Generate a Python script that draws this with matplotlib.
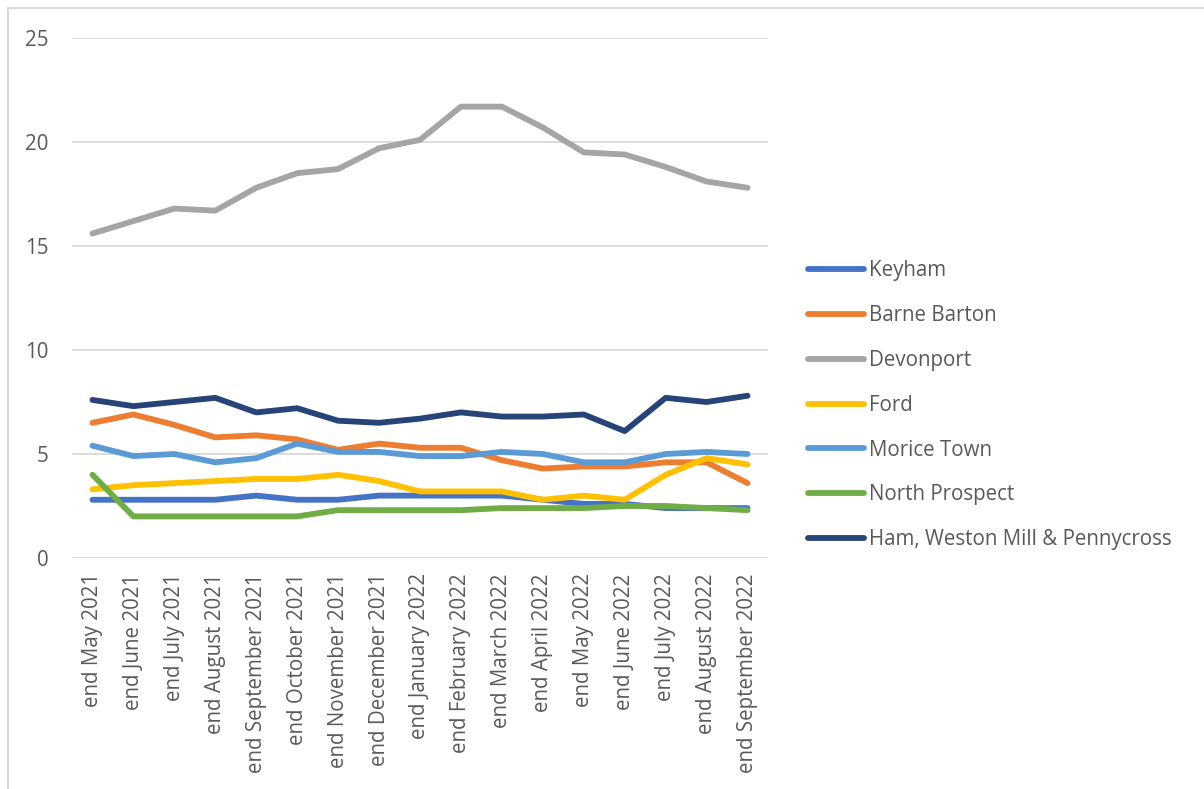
import matplotlib
matplotlib.use('Agg')
import matplotlib.pyplot as plt
from matplotlib.patches import Rectangle

# month labels
months = ['end May 2021', 'end June 2021', 'end July 2021', 'end August 2021',
          'end September 2021', 'end October 2021', 'end November 2021',
          'end December 2021', 'end January 2022', 'end February 2022',
          'end March 2022', 'end April 2022', 'end May 2022', 'end June 2022',
          'end July 2022', 'end August 2022', 'end September 2022']

keyham = [2.8, 2.8, 2.8, 2.8, 3.0, 2.8, 2.8, 3.0, 3.0, 3.0, 3.0, 2.8, 2.6, 2.6, 2.4, 2.4, 2.4]
barne_barton = [6.5, 6.9, 6.4, 5.8, 5.9, 5.7, 5.2, 5.5, 5.3, 5.3, 4.7, 4.3, 4.4, 4.4, 4.6, 4.6, 3.6]
devonport = [15.6, 16.2, 16.8, 16.7, 17.8, 18.5, 18.7, 19.7, 20.1, 21.7, 21.7, 20.7, 19.5, 19.4, 18.8, 18.1, 17.8]
ford = [3.3, 3.5, 3.6, 3.7, 3.8, 3.8, 4.0, 3.7, 3.2, 3.2, 3.2, 2.8, 3.0, 2.8, 4.0, 4.8, 4.5]
morice_town = [5.4, 4.9, 5.0, 4.6, 4.8, 5.5, 5.1, 5.1, 4.9, 4.9, 5.1, 5.0, 4.6, 4.6, 5.0, 5.1, 5.0]
north_prospect = [4.0, 2.0, 2.0, 2.0, 2.0, 2.0, 2.3, 2.3, 2.3, 2.3, 2.4, 2.4, 2.4, 2.5, 2.5, 2.4, 2.3]
ham = [7.6, 7.3, 7.5, 7.7, 7.0, 7.2, 6.6, 6.5, 6.7, 7.0, 6.8, 6.8, 6.9, 6.1, 7.7, 7.5, 7.8]

series = [
    ('Keyham', keyham, '#4472C4'),
    ('Barne Barton', barne_barton, '#ED7D31'),
    ('Devonport', devonport, '#A5A5A5'),
    ('Ford', ford, '#FFC000'),
    ('Morice Town', morice_town, '#5B9BD5'),
    ('North Prospect', north_prospect, '#70AD47'),
    ('Ham, Weston Mill & Pennycross', ham, '#264478'),
]

plt.rcParams['font.family'] = ['Open Sans', 'DejaVu Sans']
text_col = '#595959'

fig = plt.figure(figsize=(12.04, 7.89), dpi=100)
ax = fig.add_axes([72 / 1204, 1 - 558 / 789, (768 - 72) / 1204, (558 - 38) / 789])

x = list(range(len(months)))
for name, vals, col in series:
    ax.plot(x, vals, color=col, linewidth=4.2, label=name, solid_capstyle='round')

ax.set_xlim(-0.5, len(months) - 0.5)
ax.set_ylim(0, 25)
ax.set_yticks([0, 5, 10, 15, 20, 25])
ax.set_xticks(x)
ax.set_xticklabels(months, rotation=90)
ax.grid(axis='y', color='#D9D9D9', linewidth=1.3)
ax.set_axisbelow(True)
for s in ax.spines.values():
    s.set_visible(False)
ax.tick_params(axis='both', length=0, labelsize=14.8, colors=text_col)
ax.tick_params(axis='y', pad=17)
ax.tick_params(axis='x', pad=11)

leg = fig.legend(loc='upper left', bbox_to_anchor=(800 / 1204, 1 - 252 / 789),
                 frameon=False, fontsize=14.8, handlelength=2.7,
                 handletextpad=0.25, labelspacing=1.16, borderaxespad=0)
for t in leg.get_texts():
    t.set_color(text_col)

# outer chart border
fig.patches.append(Rectangle((8 / 1204, -0.1), 1.2, 1.1 - 8 / 789,
                             transform=fig.transFigure, fill=False,
                             edgecolor='#D9D9D9', linewidth=1.5))

fig.savefig('out.png', dpi=100)
